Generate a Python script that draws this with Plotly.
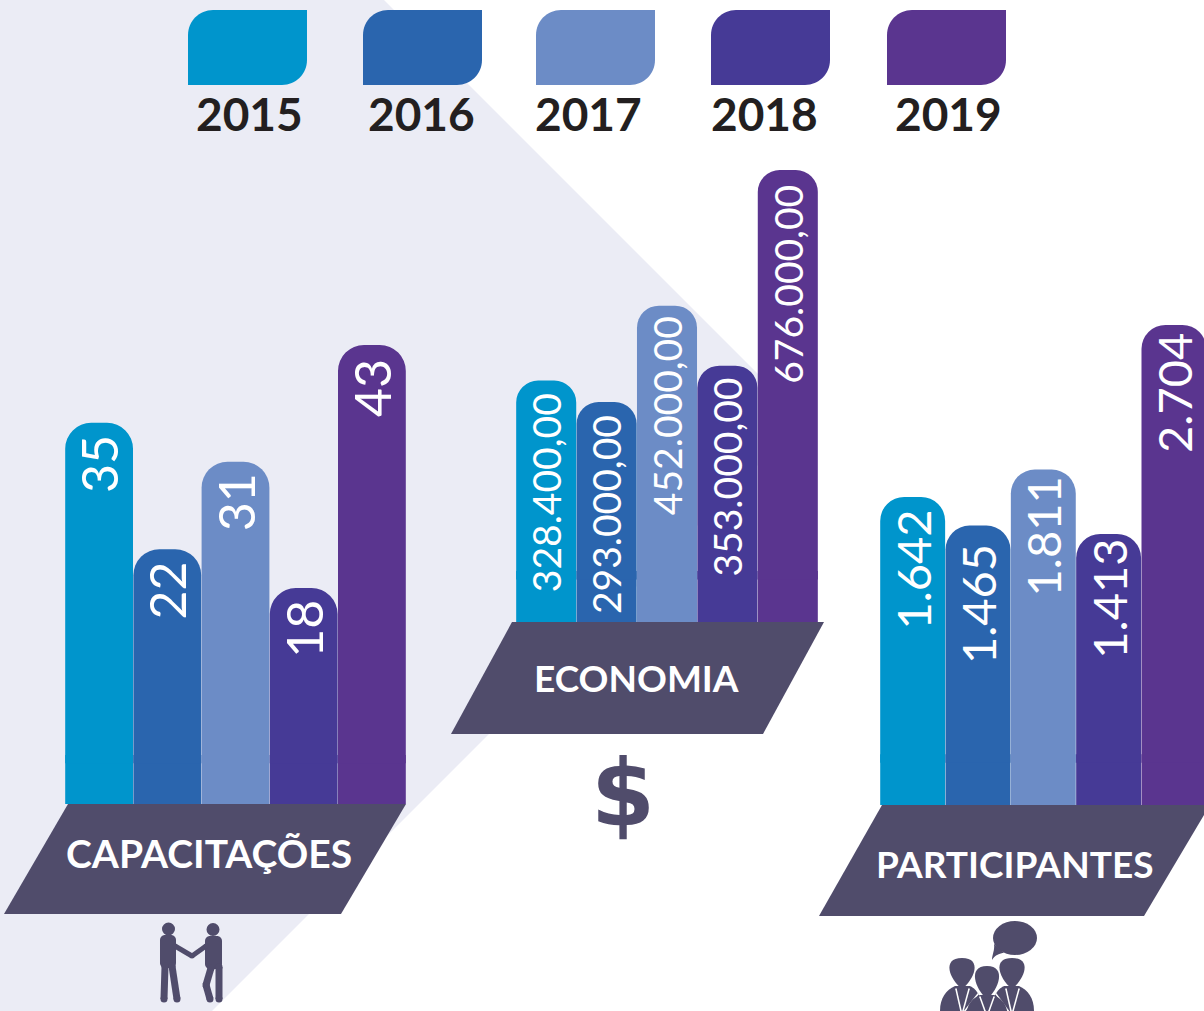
import plotly.graph_objects as go

W, H = 1204, 1011

# ---- data ----
years = ["2015", "2016", "2017", "2018", "2019"]
capacitacoes = [35, 22, 31, 18, 43]
economia = [328400, 293000, 452000, 353000, 676000]
participantes = [1642, 1465, 1811, 1413, 2704]
capacitacoes_labels = ["35", "22", "31", "18", "43"]
economia_labels = ["328.400,00", "293.000,00", "452.000,00", "353.000,00", "676.000,00"]
participantes_labels = ["1.642", "1.465", "1.811", "1.413", "2.704"]
colors = ["#0095cc", "#2a65ae", "#6c8cc6", "#463a96", "#5a358f"]

BG = "#ebecf5"
DARK = "#504c6b"
FONT = "Lato"
BARGAP = 0.006


def X(x):
    return x / W


def Y(y):
    return 1 - y / H


groups = [
    dict(name="CAPACITAÇÕES", vals=capacitacoes, labels=capacitacoes_labels, floor=-4.2,
         left=65, right=406, xmax=4.5, bottom=804, top=345, radius=26, size=50,
         shifts=[-10, -10, -10, -10, -12],
         plate=[(68, 804), (406, 804), (341, 914), (4, 914)], name_xy=(209, 853), name_size=39),
    dict(name="ECONOMIA", vals=economia, labels=economia_labels, floor=-70300,
         left=516, right=818, xmax=4.5, bottom=622, top=170, radius=22, size=39,
         shifts=[-11, -11, -9, -10, -12.5],
         plate=[(512, 622), (824, 622), (763, 734), (451, 734)], name_xy=(636, 677), name_size=37),
    dict(name="PARTICIPANTES", vals=participantes, labels=participantes_labels, floor=-260.6,
         left=880, right=1204, xmax=4.46, bottom=805, top=325, radius=24, size=47,
         shifts=[-11, -16.5, -4.5, -3, -6],
         plate=[(882, 805), (1210, 805), (1144, 916), (819, 916)], name_xy=(1014, 863), name_size=37),
]


def path(cmds):
    """Build an SVG path in paper units from (command, x, y, ...) pixel tuples."""
    out = []
    for c in cmds:
        if c[0] == "Z":
            out.append("Z")
            continue
        nums = c[1:]
        pts = []
        for i in range(0, len(nums), 2):
            pts.append(f"{X(nums[i]):.5f},{Y(nums[i + 1]):.5f}")
        out.append(c[0] + " ".join(pts))
    return " ".join(out)


shapes = []


def fill_path(cmds, color=DARK, layer="above"):
    shapes.append(dict(type="path", xref="paper", yref="paper", path=path(cmds),
                       fillcolor=color, line=dict(width=0), layer=layer))


def circle(cx, cy, rx, ry=None, color=DARK):
    ry = rx if ry is None else ry
    shapes.append(dict(type="circle", xref="paper", yref="paper", x0=X(cx - rx), x1=X(cx + rx),
                       y0=Y(cy + ry), y1=Y(cy - ry), fillcolor=color, line=dict(width=0), layer="above"))


def stroke(pts, w, color=DARK):
    """Thick poly-line with round joints and ends."""
    for (a, b), (c, d) in zip(pts, pts[1:]):
        shapes.append(dict(type="line", xref="paper", yref="paper", x0=X(a), y0=Y(b), x1=X(c), y1=Y(d),
                           line=dict(color=color, width=w), layer="above"))
    for a, b in pts:
        circle(a, b, w / 2, color=color)


def round_box(l, t, r, b, rad):
    k = 0.45 * rad
    fill_path([("M", l + rad, t), ("L", r - rad, t), ("C", r - k, t, r, t + k, r, t + rad),
               ("L", r, b - rad), ("C", r, b - k, r - k, b, r - rad, b), ("L", l + rad, b),
               ("C", l + k, b, l, b - k, l, b - rad), ("L", l, t + rad),
               ("C", l, t + k, l + k, t, l + rad, t), ("Z",)])


# background
fill_path([("M", 0, 0), ("L", 384, 0), ("L", 803.5, 419.5), ("L", 212, 1011), ("L", 0, 1011), ("Z",)],
          color=BG, layer="below")

# parallelogram plates
for g in groups:
    p = g["plate"]
    fill_path([("M", *p[0]), ("L", *p[1]), ("L", *p[2]), ("L", *p[3]), ("Z",)])

# legend swatches
legend_left = [188, 363, 536, 711, 887]
legend_text_x = [249, 421, 588, 764, 948]
annotations = []
for l, tx, c, yr in zip(legend_left, legend_text_x, colors, years):
    r, t, b, w = 25, 10, 85, 119
    k = 0.45 * r
    fill_path([("M", l + r, t), ("L", l + w, t), ("L", l + w, b - r),
               ("C", l + w, b - k, l + w - k, b, l + w - r, b), ("L", l, b), ("L", l, t + r),
               ("C", l, t + k, l + k, t, l + r, t), ("Z",)], color=c)
    annotations.append(dict(text=yr, xref="paper", yref="paper", x=X(tx), y=Y(113), xanchor="center",
                            yanchor="middle", showarrow=False,
                            font=dict(family=FONT, size=46, color="#231f20", weight=700)))

# handshake icon
circle(168.5, 929, 6.5)
circle(213, 929.5, 6.5)
round_box(160, 935, 176, 968, 5)
round_box(205, 936, 222, 969, 5)
stroke([(175, 946), (192, 956), (206, 946)], 5)
stroke([(165, 966), (164, 999)], 7)
stroke([(172, 966), (177, 999)], 7)
stroke([(219, 967), (219, 999)], 7)
stroke([(211, 968), (206, 985), (210, 999)], 7)


# people icon
def teardrop(cx, top, bot, rx):
    fill_path([("M", cx, top), ("C", cx + 1.75 * rx, top, cx + 1.0 * rx, bot - 9, cx, bot),
               ("C", cx - 1.0 * rx, bot - 9, cx - 1.75 * rx, top, cx, top), ("Z",)])


circle(1015, 938, 22, 17)
fill_path([("M", 994, 944), ("C", 995, 950, 992, 955, 992, 960), ("C", 995, 955, 1000, 953, 1004, 953), ("Z",)])
fill_path([("M", 940, 1011), ("C", 940, 998, 946, 990, 955, 986), ("L", 970, 986),
           ("C", 974, 988, 980, 992, 985, 1011), ("Z",)])
fill_path([("M", 1034, 1011), ("C", 1034, 998, 1028, 990, 1019, 986), ("L", 1004, 986),
           ("C", 1000, 988, 994, 992, 989, 1011), ("Z",)])
for a, b, c, d in [(956, 989, 961, 1011), (969, 989, 963, 1011), (1006, 989, 1011, 1011),
                   (1019, 989, 1013, 1011), (964, 1012, 978, 994), (1009, 1012, 996, 994)]:
    stroke([(a, b), (c, d)], 1.5, color="#ffffff")
fill_path([("M", 967, 1011), ("C", 968, 1003, 973, 998, 980, 995), ("L", 994, 995),
           ("C", 1000, 998, 1006, 1003, 1007, 1011), ("Z",)])
for a, b, c, d in [(980, 997, 985, 1011), (994, 997, 989, 1011)]:
    stroke([(a, b), (c, d)], 1.5, color="#ffffff")
teardrop(962, 958, 989, 12)
teardrop(1012, 958, 989, 12)
teardrop(987, 966, 999, 11.5)

# bars, one subplot per group; each bar stands on a flat footing below the zero line
fig = go.Figure()
layout_axes = {}
half = (1 - BARGAP) / 2
for i, g in enumerate(groups, start=1):
    sx = "" if i == 1 else str(i)
    fig.add_trace(go.Bar(x=years, y=g["vals"], xaxis=f"x{sx}", yaxis=f"y{sx}",
                         marker=dict(color=colors, cornerradius=g["radius"], line=dict(width=0)),
                         showlegend=False, hoverinfo="x+y"))
    layout_axes[f"xaxis{sx}"] = dict(domain=[X(g["left"]), X(g["right"])], range=[-0.5, g["xmax"]],
                                     type="category", visible=False, anchor=f"y{sx}")
    layout_axes[f"yaxis{sx}"] = dict(domain=[Y(g["bottom"]), Y(g["top"])], range=[g["floor"], max(g["vals"])],
                                     visible=False, anchor=f"x{sx}")
    for j, (c, v, t, sh) in enumerate(zip(colors, g["vals"], g["labels"], g["shifts"])):
        # the footing reaches a little above zero so no seam shows behind the bar
        shapes.append(dict(type="rect", xref=f"x{sx}", yref=f"y{sx}", x0=j - half, x1=j + half,
                           y0=g["floor"], y1=-g["floor"] * 0.2, fillcolor=c, line=dict(width=0), layer="below"))
        annotations.append(dict(text=t, x=j, y=v, xref=f"x{sx}", yref=f"y{sx}", textangle=-90,
                                xanchor="center", yanchor="top", yshift=sh, showarrow=False,
                                font=dict(family=FONT, size=g["size"], color="#ffffff", weight=400)))
    nx, ny = g["name_xy"]
    annotations.append(dict(text=g["name"], xref="paper", yref="paper", x=X(nx), y=Y(ny), xanchor="center",
                            yanchor="middle", showarrow=False,
                            font=dict(family=FONT, size=g["name_size"], color="#ffffff", weight=700)))

annotations.append(dict(text="$", xref="paper", yref="paper", x=X(623), y=Y(794), xanchor="center",
                        yanchor="middle", showarrow=False,
                        font=dict(family="DejaVu Sans", size=92, color=DARK, weight=700)))

fig.update_layout(width=W, height=H, margin=dict(l=0, r=0, t=0, b=0), autosize=False,
                  paper_bgcolor="#ffffff", plot_bgcolor="rgba(0,0,0,0)", bargap=BARGAP,
                  shapes=shapes, annotations=annotations, **layout_axes)

fig.write_html("out.html", config=dict(displayModeBar=False),
               post_script="document.body.style.margin='0';document.body.style.overflow='hidden';")
